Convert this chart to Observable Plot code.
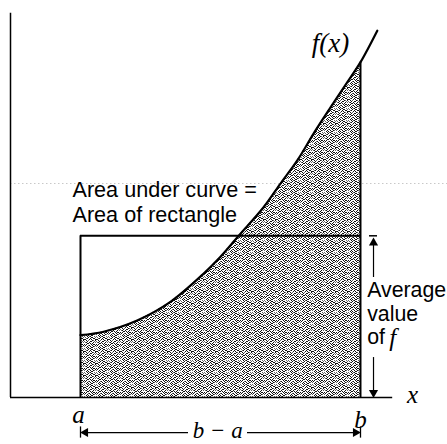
<!DOCTYPE html>
<html>
<head>
<meta charset="utf-8">
<script src="https://cdn.jsdelivr.net/npm/d3@7"></script>
<script src="https://cdn.jsdelivr.net/npm/@observablehq/plot@0.6"></script>
<style>
  body { margin: 0; background: #fff; }
  #chart svg { display: block; }
</style>
</head>
<body>
<div id="chart"></div>
<script>
// Curve f(x) (units: origin at axes corner)
const curveX = [1.00, 1.33, 1.81, 2.29, 2.76, 3.00, 3.26, 3.61, 3.86, 4.10, 4.33, 4.57, 4.81, 5.00, 5.24];
const curveY = [0.89, 0.94, 1.10, 1.37, 1.77, 2.01, 2.31, 2.71, 3.06, 3.39, 3.77, 4.14, 4.50, 4.79, 5.24];
const a = 1, b = 5;
const fb = 4.79;            // f(b)
const average = 2.31;       // average value of f (rectangle height)
const yAxisTop = 5.49;
const xAxisEnd = 5.46;

const leftLines = ["Area under curve =", "Area of rectangle"];
const leftLineY = [2.964, 2.607];
const rightLines = ["Average", "value", "of"];
const rightLineY = [1.529, 1.193, 0.864];

const curve = curveX.map((x, i) => ({x, y: curveY[i]}));
const under = curve.filter(d => d.x <= b);

const serif = "Liberation Serif, Times New Roman, serif";
const sans = "Liberation Sans, Arial, Helvetica, sans-serif";

const arrowX = 5.186;
const dimY = -0.5;

const plot = Plot.plot({
  width: 447,
  height: 444,
  marginTop: 0, marginRight: 0, marginBottom: 0, marginLeft: 10,
  x: {domain: [0, 6.243], axis: null},
  y: {domain: [-0.671, 5.671], axis: null},
  marks: [
    // faint scan artifact line
    Plot.ruleY([3.057], {stroke: "#c8c8c8", strokeWidth: 1, strokeDasharray: "1.5 2.5"}),
    // stippled area under the curve
    Plot.areaY(under, {x: "x", y: "y", fill: "url(#stipple)", curve: "catmull-rom"}),
    // axes
    Plot.ruleX([0], {y1: 0, y2: yAxisTop, stroke: "black", strokeWidth: 1.5}),
    Plot.ruleY([0], {x1: 0, x2: xAxisEnd, stroke: "black", strokeWidth: 1.5}),
    // rectangle
    Plot.ruleX([a], {y1: 0, y2: average, stroke: "black", strokeWidth: 2}),
    Plot.ruleY([average], {x1: a, x2: b, stroke: "black", strokeWidth: 2}),
    Plot.ruleX([b], {y1: 0, y2: fb, stroke: "black", strokeWidth: 2}),
    // curve
    Plot.line(curve, {x: "x", y: "y", stroke: "black", strokeWidth: 2.2, curve: "catmull-rom"}),
    // labels
    Plot.text(["f(x)"], {x: 4.571, y: 5.057, fontFamily: serif, fontStyle: "italic", fontSize: 27}),
    Plot.text(leftLines, {x: 0.886, y: (d, i) => leftLineY[i], textAnchor: "start", fontFamily: sans, fontSize: 21.6, fill: "black"}),
    Plot.text(rightLines, {x: 5.096, y: (d, i) => rightLineY[i], textAnchor: "start", fontFamily: sans, fontSize: 21.3, fill: "black"}),
    Plot.text(["f"], {x: 5.46, y: 0.85, fontFamily: serif, fontStyle: "italic", fontSize: 25}),
    Plot.text(["x"], {x: 5.743, y: 0.03, fontFamily: serif, fontStyle: "italic", fontSize: 25}),
    Plot.text(["a"], {x: 0.971, y: -0.25, fontFamily: serif, fontStyle: "italic", fontSize: 25}),
    Plot.text(["b"], {x: 5.0, y: -0.32, fontFamily: serif, fontStyle: "italic", fontSize: 25}),
    Plot.text(["b − a"], {x: 2.96, y: -0.475, fontFamily: serif, fontStyle: "italic", fontSize: 23}),
    // vertical "average" arrows
    Plot.ruleY([average], {x1: 5.129, x2: 5.243, stroke: "black", strokeWidth: 1.5}),
    Plot.ruleX([arrowX], {y1: 1.714, y2: 2.25, stroke: "black", strokeWidth: 1.2}),
    Plot.ruleX([arrowX], {y1: 0.05, y2: 0.571, stroke: "black", strokeWidth: 1.2}),
    Plot.dot([{x: arrowX, y: 2.21, r: 0}, {x: arrowX, y: 0.07, r: 180}],
      {x: "x", y: "y", rotate: "r", symbol: "triangle", r: 3.4, fill: "black", stroke: "none"}),
    // horizontal b - a dimension
    Plot.ruleY([dimY], {x1: a + 0.05, x2: 2.543, stroke: "black", strokeWidth: 1.2}),
    Plot.ruleY([dimY], {x1: 3.386, x2: b - 0.05, stroke: "black", strokeWidth: 1.2}),
    Plot.ruleX([a, b], {y1: -0.42, y2: -0.58, stroke: "black", strokeWidth: 1.3}),
    Plot.dot([{x: a + 0.07, y: dimY, r: -90}, {x: b - 0.07, y: dimY, r: 90}],
      {x: "x", y: "y", rotate: "r", symbol: "triangle", r: 3.4, fill: "black", stroke: "none"})
  ]
});

// stipple pattern
const ns = "http://www.w3.org/2000/svg";
const tile = [
  "100101100010",
  "010010011001",
  "001100100110",
  "110001010001",
  "001010001101",
  "100100110010",
  "011001000101",
  "000110101000",
  "101000010110",
  "010011001001",
  "100100100110",
  "001010011000"
];
const n = tile.length;
const defs = document.createElementNS(ns, "defs");
const pat = document.createElementNS(ns, "pattern");
pat.setAttribute("id", "stipple");
pat.setAttribute("width", n);
pat.setAttribute("height", n);
pat.setAttribute("patternUnits", "userSpaceOnUse");
const bg = document.createElementNS(ns, "rect");
bg.setAttribute("width", n); bg.setAttribute("height", n); bg.setAttribute("fill", "#fff");
pat.appendChild(bg);
tile.forEach((row, j) => {
  [...row].forEach((c, i) => {
    if (c === "1") {
      const r = document.createElementNS(ns, "rect");
      r.setAttribute("x", i); r.setAttribute("y", j);
      r.setAttribute("width", 1); r.setAttribute("height", 1);
      r.setAttribute("fill", (i * 7 + j * 3) % 5 === 0 ? "#666" : "#111");
      pat.appendChild(r);
    }
  });
});
defs.appendChild(pat);
plot.insertBefore(defs, plot.firstChild);

document.getElementById("chart").appendChild(plot);
</script>
</body>
</html>
